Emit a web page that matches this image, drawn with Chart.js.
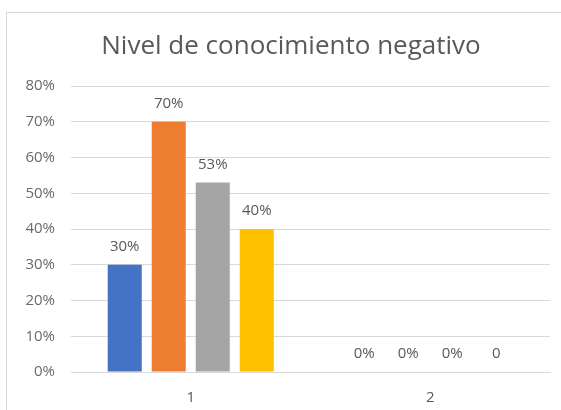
<!DOCTYPE html>
<html>
<head>
<meta charset="utf-8">
<script src="https://cdn.jsdelivr.net/npm/chart.js@4"></script>
<style>
  html, body { margin: 0; padding: 0; background: #fff; }
  #frame {
    position: absolute; left: 6px; top: 12px; width: 700px; height: 600px;
    border-top: 1px solid #d9d9d9; border-left: 1px solid #d9d9d9;
  }
  #wrap { position: absolute; left: 0; top: 0; width: 561px; height: 410px; }
</style>
</head>
<body>
<div id="frame"></div>
<div id="wrap"><canvas id="myChart" width="561" height="410"></canvas></div>
<script>
// data
const categories = ["1", "2"];
const serie1 = [0.30, 0];
const serie2 = [0.70, 0];
const serie3 = [0.53, 0];
const serie4 = [0.40, 0];
const yTicks = [0, 0.1, 0.2, 0.3, 0.4, 0.5, 0.6, 0.7, 0.8];
// cells whose label is shown without % (series index, category index)
const plainCells = [[3, 1]];
const titleText = "Nivel de conocimiento negativo";

const colors = ["#4472C4", "#ED7D31", "#A5A5A5", "#FFC000"];
const textGray = "#595959";

// title, centred on the outer frame like the original
const chartTitle = {
  id: "chartTitle",
  afterDraw(chart) {
    const ctx = chart.ctx;
    ctx.save();
    ctx.font = "26px 'Open Sans'";
    ctx.fillStyle = textGray;
    ctx.textAlign = "center";
    ctx.textBaseline = "middle";
    ctx.fillText(titleText, 291, 47);
    ctx.restore();
  },
};

// draws value labels above every bar
const barLabels = {
  id: "barLabels",
  afterDatasetsDraw(chart) {
    const ctx = chart.ctx;
    ctx.save();
    ctx.font = "15px 'Open Sans'";
    ctx.fillStyle = textGray;
    ctx.textAlign = "center";
    ctx.textBaseline = "middle";
    chart.data.datasets.forEach((ds, i) => {
      const meta = chart.getDatasetMeta(i);
      meta.data.forEach((bar, j) => {
        const v = ds.data[j];
        let txt = Math.round(v * 100) + "%";
        if (plainCells.some((c) => c[0] === i && c[1] === j)) txt = String(v);
        ctx.fillText(txt, bar.x, bar.y - 18);
      });
    });
    ctx.restore();
  },
};

let myChart = document.getElementById("myChart").getContext("2d");
let myGraph = new Chart(myChart, {
  type: "bar",
  data: {
    labels: categories,
    datasets: [serie1, serie2, serie3, serie4].map((d, i) => ({
      label: "Serie " + (i + 1),
      data: d,
      backgroundColor: colors[i],
      categoryPercentage: 0.735,
      barPercentage: 0.773,
    })),
  },
  options: {
    responsive: false,
    animation: false,
    layout: { padding: { left: 0, right: 11, top: 86, bottom: 0 } },
    plugins: {
      legend: { display: false },
      tooltip: { enabled: false },
      title: { display: false },
    },
    scales: {
      x: {
        grid: { display: false },
        border: { display: true, color: "#d9d9d9" },
        ticks: { color: textGray, font: { family: "'Open Sans'", size: 15 }, padding: 9 },
        afterFit(scale) { scale.height = 38; },
      },
      y: {
        min: 0,
        max: 0.8,
        afterBuildTicks(scale) { scale.ticks = yTicks.map((v) => ({ value: v })); },
        grid: { color: "#d9d9d9", drawTicks: false },
        border: { display: false },
        ticks: {
          color: "#6a6a6a",
          font: { family: "'Open Sans'", size: 15 },
          padding: 16,
          callback: (v) => Math.round(v * 100) + "%",
        },
        afterFit(scale) { scale.width = 71; },
      },
    },
  },
  plugins: [barLabels, chartTitle],
});
</script>
</body>
</html>
